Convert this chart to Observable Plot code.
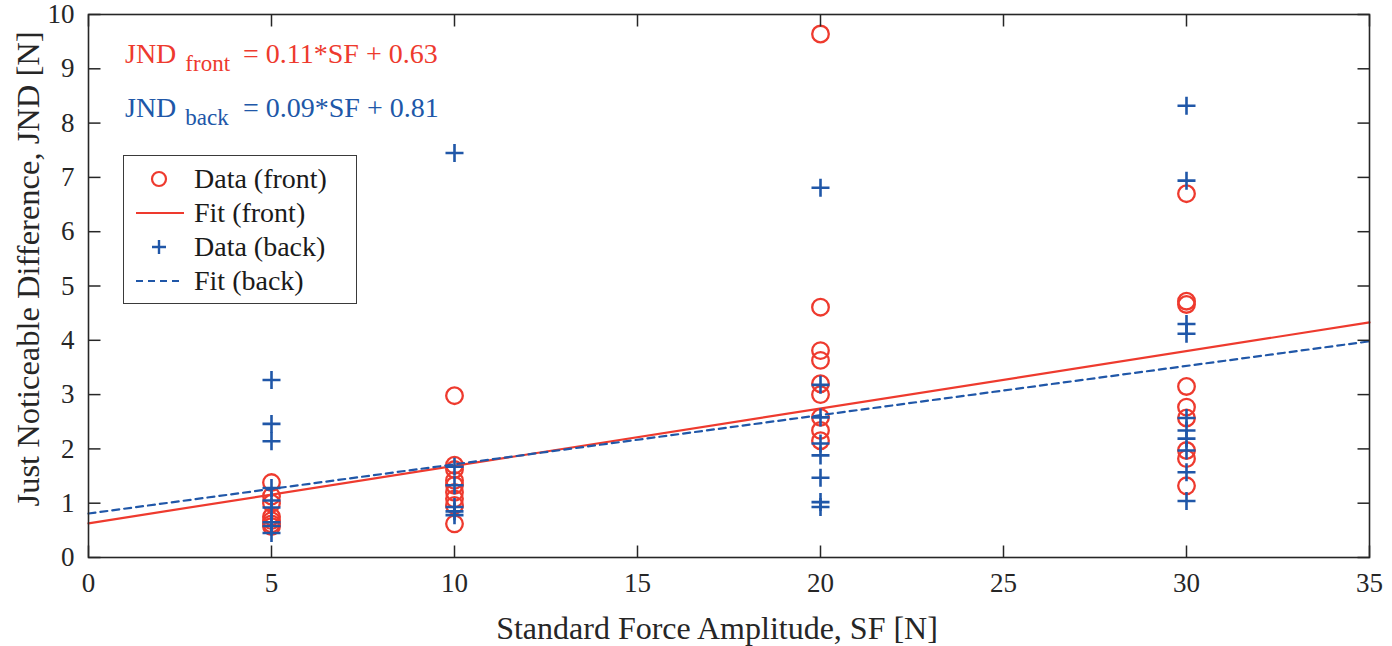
<!DOCTYPE html>
<html>
<head>
<meta charset="utf-8">
<script src="https://cdn.jsdelivr.net/npm/d3@7"></script>
<script src="https://cdn.jsdelivr.net/npm/@observablehq/plot@0.6"></script>
<style>
  html, body { margin: 0; padding: 0; background: #fff; }
  #wrap { position: relative; width: 1392px; height: 646px; font-family: "Liberation Serif", "Times New Roman", serif; }
  #legend { position: absolute; left: 123px; top: 155px; width: 232px; height: 141px; border: 1.3px solid #3a3a3a; background: #fff; padding-top: 6px; box-sizing: content-box; }
  .row { height: 34px; display: flex; align-items: center; font-size: 28px; color: #1a1a1a; }
  .row svg { width: 70px; height: 34px; flex: none; }
  #eq { position: absolute; left: 0; top: 0; pointer-events: none; }
</style>
</head>
<body>
<div id="wrap"></div>
<script>
// ---- data ----
const frontSF  = [5, 5, 5, 5, 5, 5, 5,
                  10, 10, 10, 10, 10, 10, 10, 10, 10,
                  20, 20, 20, 20, 20, 20, 20, 20, 20,
                  30, 30, 30, 30, 30, 30, 30, 30, 30];
const frontJND = [1.38, 1.13, 1.00, 0.75, 0.68, 0.62, 0.57,
                  2.98, 1.70, 1.62, 1.42, 1.33, 1.20, 1.08, 0.96, 0.62,
                  9.64, 4.61, 3.81, 3.63, 3.20, 3.00, 2.58, 2.34, 2.15,
                  6.70, 4.72, 4.66, 3.15, 2.77, 2.57, 1.97, 1.82, 1.32];
const backSF   = [5, 5, 5, 5, 5, 5, 5, 5, 5,
                  10, 10, 10, 10, 10, 10,
                  20, 20, 20, 20, 20, 20, 20, 20,
                  30, 30, 30, 30, 30, 30, 30, 30, 30, 30];
const backJND  = [3.27, 2.46, 2.14, 1.28, 1.05, 0.92, 0.65, 0.58, 0.45,
                  7.45, 1.67, 1.33, 0.93, 0.85, 0.78,
                  6.81, 3.18, 2.58, 2.10, 1.88, 1.47, 1.02, 0.93,
                  8.32, 6.94, 4.30, 4.12, 2.57, 2.34, 2.19, 1.97, 1.57, 1.04];
// fit lines as drawn: [intercept, slope]
const fitFront = [0.63, 0.1057];
const fitBack  = [0.81, 0.0906];
const xDomain = [0, 35];
const yDomain = [0, 10];
const xTicks = [0, 5, 10, 15, 20, 25, 30, 35];
const yTicks = [0, 1, 2, 3, 4, 5, 6, 7, 8, 9, 10];
const seriesLabels = ["Data (front)", "Fit (front)", "Data (back)", "Fit (back)"];
const eqFront = ["JND", "front", "= 0.11*SF + 0.63"];
const eqBack  = ["JND", "back", "= 0.09*SF + 0.81"];
const xLabel = "Standard Force Amplitude, SF [N]";
const yLabel = "Just Noticeable Difference, JND [N]";

// ---- styles ----
const RED = "#ee3a2e";
const BLUE = "#2057a8";
const AX = "#262626";
const FONT = "Liberation Serif, Times New Roman, serif";

const front = frontSF.map((x, i) => ({x, y: frontJND[i]}));
const back = backSF.map((x, i) => ({x, y: backJND[i]}));
const fitLine = ([b, m]) => xDomain.map(x => ({x, y: b + m * x}));

const plusSym = {draw(ctx) { const h = 9; ctx.moveTo(-h, 0); ctx.lineTo(h, 0); ctx.moveTo(0, -h); ctx.lineTo(0, h); }};
const TL = 12;
const tickUp = {draw(ctx) { ctx.moveTo(0, 0); ctx.lineTo(0, -TL); }};
const tickDown = {draw(ctx) { ctx.moveTo(0, 0); ctx.lineTo(0, TL); }};
const tickRight = {draw(ctx) { ctx.moveTo(0, 0); ctx.lineTo(TL, 0); }};
const tickLeft = {draw(ctx) { ctx.moveTo(0, 0); ctx.lineTo(-TL, 0); }};

const plot = Plot.plot({
  width: 1392,
  height: 646,
  marginLeft: 88,
  marginRight: 23,
  marginTop: 14,
  marginBottom: 89,
  style: {fontFamily: FONT, fontSize: "26px", color: AX, background: "#fff"},
  x: {domain: xDomain},
  y: {domain: yDomain},
  marks: [
    Plot.axisX(xTicks, {tickSize: 0, tickPadding: 15, label: null, fontSize: 27, tickFormat: d => String(d)}),
    Plot.axisY(yTicks, {tickSize: 0, tickPadding: 14, label: null, fontSize: 27, tickFormat: d => String(d)}),
    Plot.dot(front, {x: "x", y: "y", r: 8.3, symbol: "circle", stroke: RED, fill: "none", strokeWidth: 2.3}),
    Plot.line(fitLine(fitFront), {x: "x", y: "y", stroke: RED, strokeWidth: 2.2}),
    Plot.dot(back, {x: "x", y: "y", symbol: plusSym, stroke: BLUE, fill: "none", strokeWidth: 2.6}),
    Plot.line(fitLine(fitBack), {x: "x", y: "y", stroke: BLUE, strokeWidth: 2.2, strokeDasharray: "7,5"}),
    // inside ticks on all four sides
    Plot.dot(xTicks, {x: d => d, y: () => yDomain[0], symbol: tickUp, stroke: AX, fill: "none", strokeWidth: 1.5}),
    Plot.dot(xTicks, {x: d => d, y: () => yDomain[1], symbol: tickDown, stroke: AX, fill: "none", strokeWidth: 1.5}),
    Plot.dot(yTicks, {y: d => d, x: () => xDomain[0], symbol: tickRight, stroke: AX, fill: "none", strokeWidth: 1.5}),
    Plot.dot(yTicks, {y: d => d, x: () => xDomain[1], symbol: tickLeft, stroke: AX, fill: "none", strokeWidth: 1.5}),
    Plot.frame({stroke: AX, strokeWidth: 1.6}),
    Plot.text([xLabel], {frameAnchor: "bottom", dx: -12, dy: 71, lineAnchor: "middle", textAnchor: "middle", fontSize: 32, fill: AX}),
    Plot.text([yLabel], {frameAnchor: "left", dx: -60, dy: -17, rotate: -90, lineAnchor: "middle", textAnchor: "middle", fontSize: 32.5, fill: AX})
  ]
});

const wrap = document.getElementById("wrap");
wrap.appendChild(plot);

// equations overlay
const ns = "http://www.w3.org/2000/svg";
const eq = document.createElementNS(ns, "svg");
eq.setAttribute("id", "eq");
eq.setAttribute("width", 1392);
eq.setAttribute("height", 646);
function eqText(parts, color, baseY) {
  const t = document.createElementNS(ns, "text");
  t.setAttribute("x", 125);
  t.setAttribute("y", baseY);
  t.setAttribute("fill", color);
  t.setAttribute("font-family", FONT);
  t.setAttribute("font-size", 28);
  const a = document.createElementNS(ns, "tspan"); a.textContent = parts[0];
  const b = document.createElementNS(ns, "tspan"); b.textContent = parts[1];
  b.setAttribute("font-size", 23); b.setAttribute("dx", 9); b.setAttribute("dy", 8);
  const c = document.createElementNS(ns, "tspan"); c.textContent = parts[2];
  c.setAttribute("x", 243); c.setAttribute("dy", -8);
  t.appendChild(a); t.appendChild(b); t.appendChild(c);
  eq.appendChild(t);
}
eqText(eqFront, RED, 63);
eqText(eqBack, BLUE, 117);
wrap.appendChild(eq);

// legend
const legend = document.createElement("div");
legend.id = "legend";
const swatches = [
  `<circle cx="35" cy="17" r="7" fill="none" stroke="${RED}" stroke-width="2.2"/>`,
  `<line x1="12" x2="60" y1="17" y2="17" stroke="${RED}" stroke-width="2.2"/>`,
  `<path d="M28,17H42M35,10V24" stroke="${BLUE}" stroke-width="2.4" fill="none"/>`,
  `<line x1="12" x2="60" y1="17" y2="17" stroke="${BLUE}" stroke-width="2.2" stroke-dasharray="7,5"/>`
];
seriesLabels.forEach((lab, i) => {
  const row = document.createElement("div");
  row.className = "row";
  row.innerHTML = `<svg viewBox="0 0 70 34">${swatches[i]}</svg><span>${lab}</span>`;
  legend.appendChild(row);
});
wrap.appendChild(legend);
</script>
</body>
</html>
